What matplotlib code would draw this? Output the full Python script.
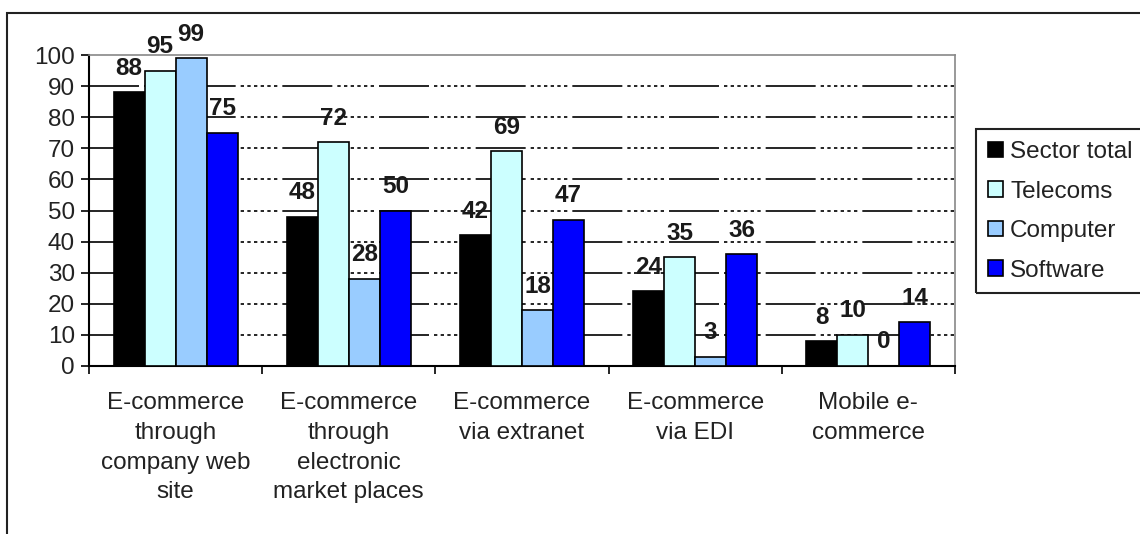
import numpy as np
import matplotlib
matplotlib.use("Agg")
import matplotlib.pyplot as plt
from matplotlib.patches import Rectangle

# data
categories = ["E-commerce\nthrough\ncompany web\nsite",
              "E-commerce\nthrough\nelectronic\nmarket places",
              "E-commerce\nvia extranet",
              "E-commerce\nvia EDI",
              "Mobile e-\ncommerce"]
series_names = ["Sector total", "Telecoms", "Computer", "Software"]
sector_total = [88, 48, 42, 24, 8]
telecoms = [95, 72, 69, 35, 10]
computer = [99, 28, 18, 3, 0]
software = [75, 50, 47, 36, 14]
yticks = list(range(0, 101, 10))

series = [sector_total, telecoms, computer, software]
colors = ["#000000", "#CCFFFF", "#99CCFF", "#0000FF"]

plt.rcParams['font.family'] = ['Liberation Sans', 'DejaVu Sans']
fs = 17.5

fig = plt.figure(figsize=(11.4, 5.34), dpi=100)
ax = fig.add_axes([89 / 1140, 1 - 366 / 534, 866 / 1140, 311 / 534])

# outer chart frame (runs past the right and bottom edges)
fig.patches.append(Rectangle((7 / 1140, -0.2), 2, 1 - 13 / 534 + 0.2,
                             transform=fig.transFigure, fill=False,
                             edgecolor="#222222", linewidth=1.5, zorder=0))

x = np.arange(len(categories))
w = 0.179
offsets = (np.arange(4) - 1.5) * w

bars = []
for i, vals in enumerate(series):
    b = ax.bar(x + offsets[i], vals, width=w, color=colors[i],
               edgecolor="black", linewidth=1.2, label=series_names[i], zorder=3)
    bars.append(b)
    for xi, v in zip(x + offsets[i], vals):
        ax.annotate(str(v), xy=(xi, v), xytext=(0, 9), textcoords="offset points",
                    ha="center", va="bottom", fontsize=fs, fontweight="bold",
                    color="#1a1a1a", zorder=4)

# dash + dots grid like the original
grid_style = (0, (30, 3, 2, 2, 2, 2, 2, 2, 2, 2, 2, 2, 2, 3))
for yv in yticks[1:-1]:
    ax.axhline(yv, color="black", linewidth=1.2, linestyle=grid_style, zorder=1)

ax.set_xlim(-0.5, len(categories) - 0.5)
ax.set_ylim(0, 100)
ax.set_yticks(yticks)
ax.tick_params(axis="y", direction="out", length=6, width=1.2,
               labelsize=fs, labelcolor="#222222", pad=4)

# category labels between boundary ticks
ax.set_xticks(np.arange(len(categories) + 1) - 0.5)
ax.set_xticklabels([])
ax.tick_params(axis="x", direction="out", length=6, width=1.2)
for xi, lab in zip(x, categories):
    ax.text(xi, -8.5, lab, ha="center", va="top", fontsize=fs,
            color="#222222", linespacing=1.45, transform=ax.transData)

for s in ["left", "bottom"]:
    ax.spines[s].set_color("black")
    ax.spines[s].set_linewidth(1.5)
for s in ["top", "right"]:
    ax.spines[s].set_color("#888888")
    ax.spines[s].set_linewidth(1.2)

leg = fig.legend(handles=bars, labels=series_names, loc="upper left",
                 bbox_to_anchor=(976 / 1140, 1 - 129 / 534), fontsize=fs,
                 frameon=False, handlelength=0.6, handleheight=0.6,
                 handletextpad=0.3, labelspacing=0.72, borderpad=0.5,
                 borderaxespad=0)
for t in leg.get_texts():
    t.set_color("#222222")
# legend box is cut off by the right edge in the original
fig.patches.append(Rectangle((976 / 1140, 1 - 293 / 534), 0.3, 164 / 534,
                             transform=fig.transFigure, fill=False,
                             edgecolor="#222222", linewidth=1.5))

fig.savefig("out.png", dpi=100)
